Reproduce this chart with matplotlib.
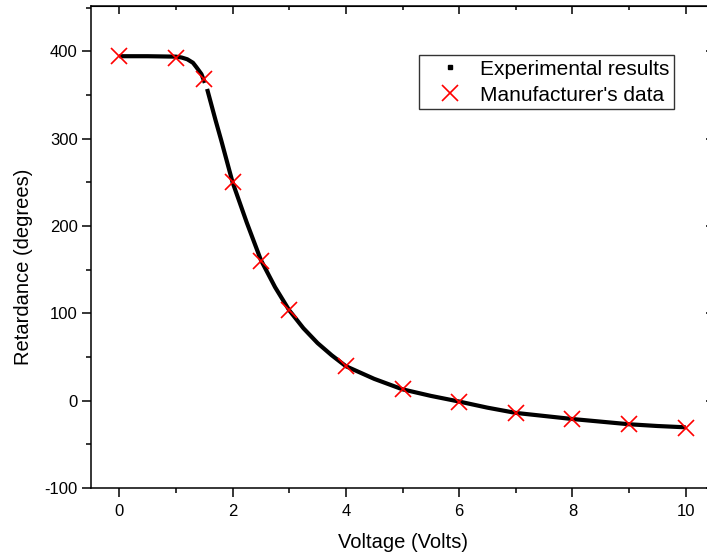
import numpy as np
import matplotlib
matplotlib.use('Agg')
from matplotlib import pyplot as plt
from matplotlib.lines import Line2D

# data -----------------------------------------------------------------
# experimental results (dense curve), NaN = small gap in the trace
exp_v = [0.0, 0.5, 1.0, 1.1, 1.2, 1.3, 1.36, 1.45, 1.51, 1.53, 1.55, 1.6, 1.7, 1.8, 1.9, 2.0,
         2.25, 2.5, 2.75, 3.0, 3.25, 3.5, 3.75, 4.0, 4.5, 5.0, 5.5, 6.0, 6.5,
         7.0, 7.5, 8.0, 8.5, 9.0, 9.5, 10.0]
exp_r = [394.5, 394.5, 394, 393, 391, 387, 382, 374, 364, np.nan, 357, 345, 321, 298, 274, 250,
         204, 161, 130, 103.5, 83, 66, 52, 39.5, 25, 13, 5.5, -1, -8,
         -14, -17.5, -21, -24, -27, -29, -30.5]

# manufacturer's data
man_v = [0, 1, 1.5, 2, 2.5, 3, 4, 5, 6, 7, 8, 9, 10]
man_r = [395, 392, 368, 251, 160.5, 103.5, 39.5, 13, -1, -14, -21, -27, -31]

x_ticks = [0, 2, 4, 6, 8, 10]
y_ticks = [-100, 0, 100, 200, 300, 400]

#作圖-------------------------------------------------------------------
plt.rcParams['font.family'] = ['Liberation Sans', 'DejaVu Sans']
plt.rcParams['axes.unicode_minus'] = False

fig = plt.figure(figsize=(7.07, 5.58), dpi=100)
# right spine sits just outside the picture, like the reference crop
ax = fig.add_axes([91/707, 70/558, 623/707, 482/558])

ax.plot(exp_v, exp_r, color='black', lw=3.0, solid_capstyle='butt', zorder=2)
ax.plot(man_v, man_r, linestyle='none', marker='x', color='#ff0000',
        markersize=11, markeredgewidth=1.2, zorder=3)

ax.set_xlim(-0.5, 10.5)
ax.set_ylim(-100, 452)
ax.set_xticks(x_ticks)
ax.set_yticks(y_ticks)
ax.set_xticks(np.arange(-0.0, 10.5, 1), minor=True)
ax.set_yticks(np.arange(-50, 451, 100), minor=True)

for s in ax.spines.values():
    s.set_linewidth(1.1)

ax.tick_params(axis='both', which='major', direction='out', length=6.5, width=1.1,
               labelsize=12, pad=3)
ax.tick_params(axis='both', which='minor', direction='out', length=3.5, width=1.1)
ax.tick_params(axis='x', which='major', pad=5)

# inward ticks on top and right
top = ax.secondary_xaxis('top')
top.set_xticks(x_ticks)
top.set_xticks(np.arange(-0.0, 10.5, 1), minor=True)
top.tick_params(which='major', direction='in', length=5.5, width=1.1, labeltop=False)
top.tick_params(which='minor', direction='in', length=3, width=1.1)
right = ax.secondary_yaxis('right')
right.set_yticks(y_ticks)
right.set_yticks(np.arange(-50, 451, 100), minor=True)
right.tick_params(which='major', direction='in', length=5.5, width=1.1, labelright=False)
right.tick_params(which='minor', direction='in', length=3, width=1.1)

ax.set_xlabel('Voltage (Volts)', fontsize=14.5)
ax.set_ylabel('Retardance (degrees)', fontsize=14.5)
ax.xaxis.set_label_coords(0.5, -0.093)
ax.yaxis.set_label_coords(-0.093, 0.458)

handles = [Line2D([], [], linestyle='none', marker='s', color='black', markersize=3),
           Line2D([], [], linestyle='none', marker='x', color='#ff0000',
                  markersize=11, markeredgewidth=1.2)]
leg = ax.legend(handles, ['Experimental results', "Manufacturer's data"],
                loc='upper right', bbox_to_anchor=(0.936, 0.898), borderaxespad=0,
                fontsize=15, fancybox=False, framealpha=1, edgecolor='#333333',
                handletextpad=0.2, labelspacing=0.33, borderpad=0.22, handlelength=2.5)
leg.get_frame().set_linewidth(1.0)

fig.savefig('out.png', dpi=100)
